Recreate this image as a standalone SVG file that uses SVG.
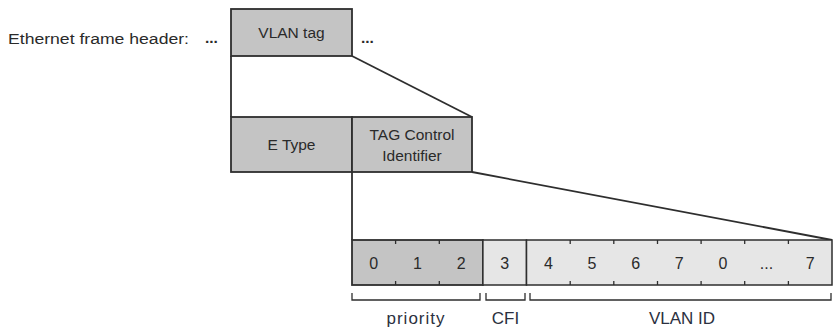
<svg xmlns="http://www.w3.org/2000/svg" width="835" height="330" viewBox="0 0 835 330">
<style>
text{font-family:"Liberation Sans",Arial,sans-serif;fill:#2a2a2a;font-size:15.5px}
.c{text-anchor:middle}
.dark{fill:#c4c4c4;stroke:#2e2e2e;stroke-width:1.8}
.light{fill:#e6e6e6;stroke:#2e2e2e;stroke-width:1.5}
.ln{stroke:#2e2e2e;stroke-width:1.8;fill:none}
.tk{stroke:#2e2e2e;stroke-width:1.3;fill:none}
.d{font-size:16px}
.lb{font-size:17px;fill:#2b3040}
</style>
<rect width="835" height="330" fill="#ffffff"/>
<g id="header-label">
<text x="8" y="44" textLength="181" lengthAdjust="spacingAndGlyphs">Ethernet frame header:</text>
<text x="205" y="43" font-weight="bold">...</text>
<text x="361" y="43" font-weight="bold">...</text>
</g>
<g id="connectors">
<line class="ln" x1="231" y1="56" x2="231" y2="117"/>
<line class="ln" x1="352" y1="56" x2="472" y2="117"/>
<line class="ln" x1="352" y1="172" x2="352" y2="240"/>
<line class="ln" x1="472" y1="172" x2="832" y2="240"/>
</g>
<g id="vlan-tag">
<rect class="dark" x="231" y="9" width="121" height="47"/>
<text class="c" x="291.5" y="38">VLAN tag</text>
</g>
<g id="e-type">
<rect class="dark" x="231" y="117" width="121" height="55"/>
<text class="c" x="291.5" y="150">E Type</text>
</g>
<g id="tag-control">
<rect class="dark" x="352" y="117" width="120" height="55"/>
<text class="c" x="412" y="140">TAG Control</text>
<text class="c" x="412" y="161">Identifier</text>
</g>
<g id="priority-bits">
<rect class="dark" x="352" y="240" width="130.9" height="45"/>
<path class="tk" d="M395.6 240v4M395.6 285v-4M439.3 240v4M439.3 285v-4"/>
<text class="c d" x="373.8" y="269">0</text>
<text class="c d" x="417.5" y="269">1</text>
<text class="c d" x="461.1" y="269">2</text>
</g>
<g id="cfi-bit">
<rect class="light" x="482.9" y="240" width="43.6" height="45"/>
<text class="c d" x="504.7" y="269">3</text>
</g>
<g id="vlan-id-bits">
<rect class="light" x="526.5" y="240" width="305.5" height="45"/>
<path class="tk" d="M570.2 240v4M570.2 285v-4M613.8 240v4M613.8 285v-4M657.5 240v4M657.5 285v-4M701.1 240v4M701.1 285v-4M744.7 240v4M744.7 285v-4M788.4 240v4M788.4 285v-4"/>
<text class="c d" x="548.4" y="269">4</text>
<text class="c d" x="592" y="269">5</text>
<text class="c d" x="635.6" y="269">6</text>
<text class="c d" x="679.3" y="269">7</text>
<text class="c d" x="722.9" y="269">0</text>
<text class="c d" x="766.5" y="269">...</text>
<text class="c d" x="810.2" y="269">7</text>
</g>
<g id="brackets">
<path class="tk" d="M352 293v7h128v-7"/>
<path class="tk" d="M486 293v7h39v-7"/>
<path class="tk" d="M530 293v7h301v-7"/>
<text class="c lb" x="416" y="324" letter-spacing="1">priority</text>
<text class="c lb" x="505.5" y="324">CFI</text>
<text class="c lb" x="682" y="324">VLAN ID</text>
</g>
</svg>
